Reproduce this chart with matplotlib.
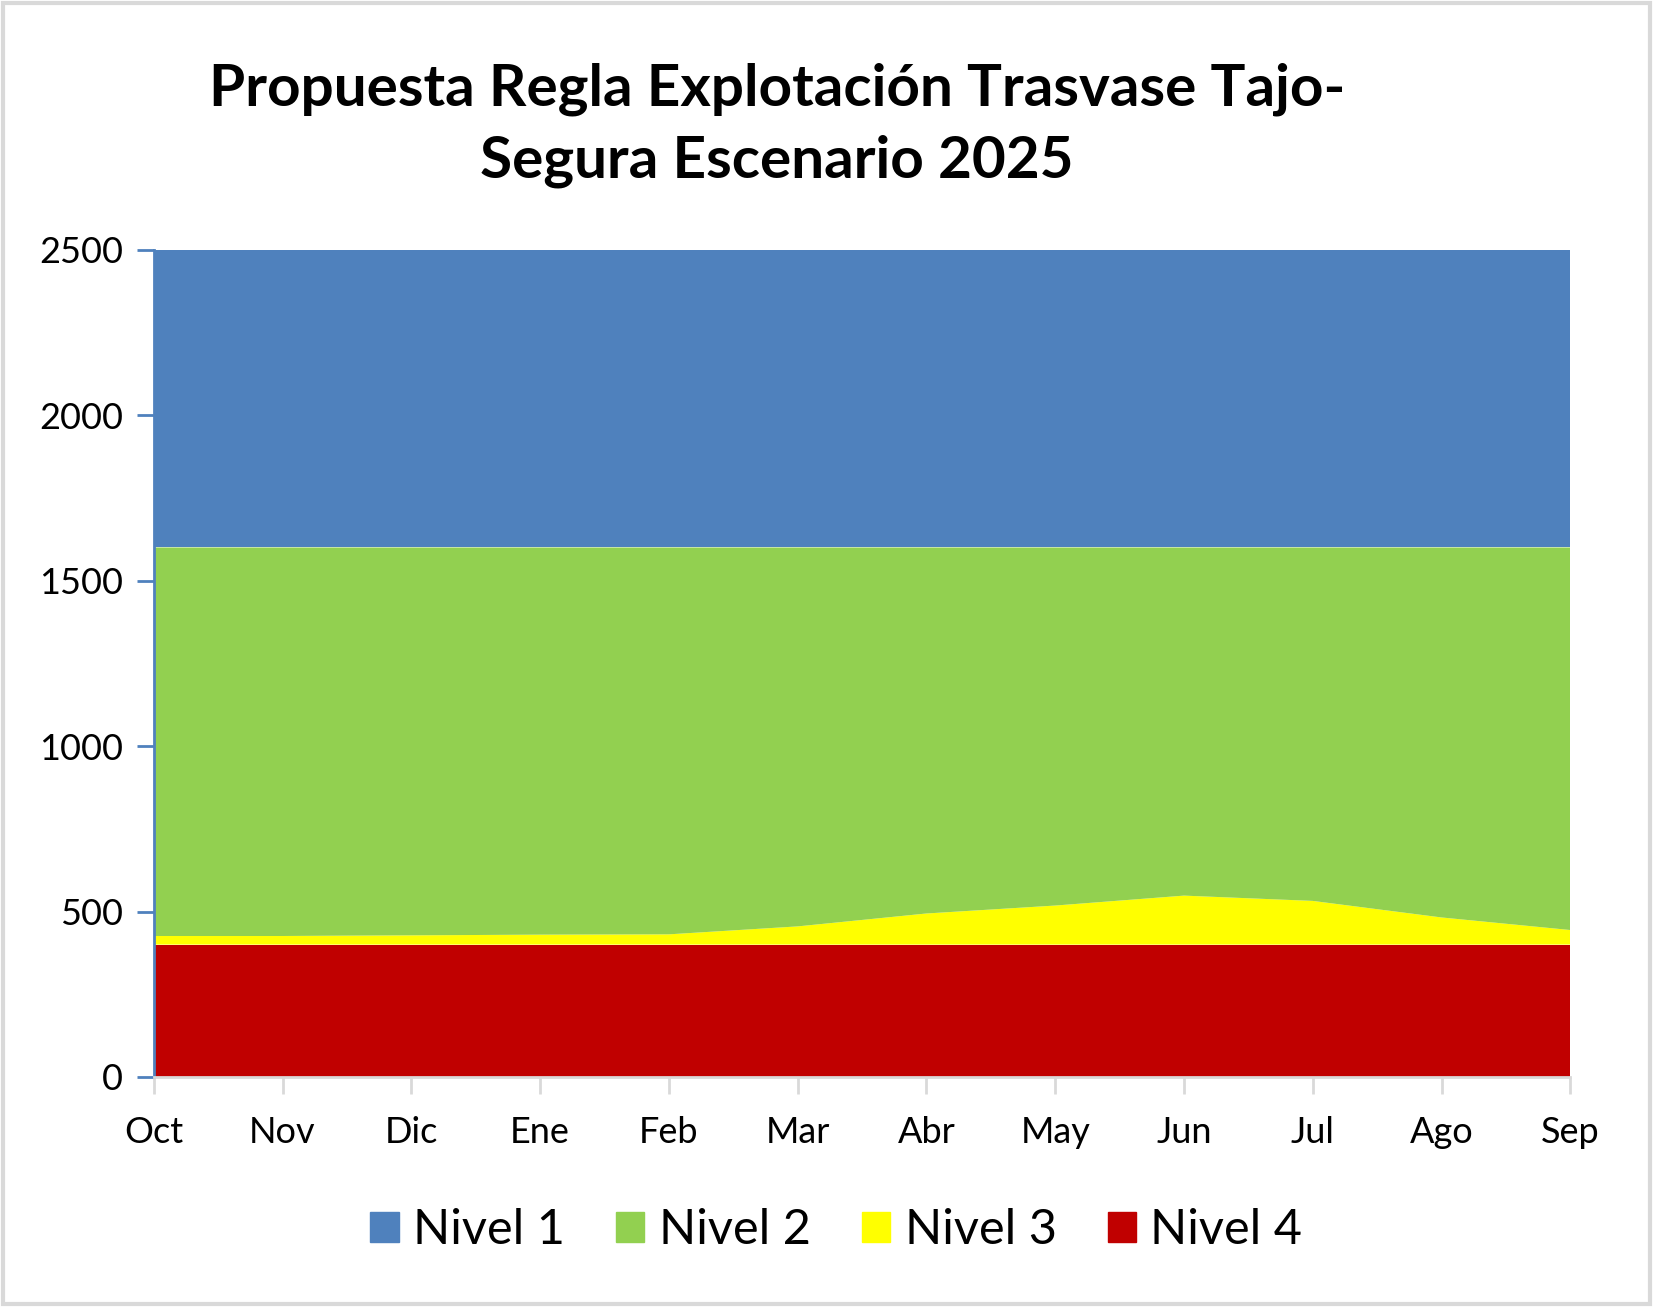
import matplotlib.pyplot as plt
from matplotlib.patches import Rectangle

plt.rcParams['font.family'] = ['Lato', 'DejaVu Sans']

meses = ['Oct', 'Nov', 'Dic', 'Ene', 'Feb', 'Mar', 'Abr', 'May', 'Jun', 'Jul', 'Ago', 'Sep']

# espesor de cada nivel (hm3), apilados de abajo a arriba
nivel4 = [400, 400, 400, 400, 400, 400, 400, 400, 400, 400, 400, 400]
nivel3 = [26, 26, 28, 30, 31, 55, 94, 118, 148, 132, 82, 44]
nivel2 = [1174, 1174, 1172, 1170, 1169, 1145, 1106, 1082, 1052, 1068, 1118, 1156]
nivel1 = [900, 900, 900, 900, 900, 900, 900, 900, 900, 900, 900, 900]

colores = {'Nivel 1': '#4F81BD', 'Nivel 2': '#92D050', 'Nivel 3': '#FFFF00', 'Nivel 4': '#C00000'}

fig = plt.figure(figsize=(16.53, 13.07), dpi=100)
ax = fig.add_axes([0.093, 0.176, 0.857, 0.633])

x = list(range(len(meses)))
ax.stackplot(x, nivel4, nivel3, nivel2, nivel1,
             colors=[colores['Nivel 4'], colores['Nivel 3'], colores['Nivel 2'], colores['Nivel 1']],
             linewidth=0)

ax.set_xlim(0, len(meses) - 1)
ax.set_ylim(0, 2500)
ax.set_yticks([0, 500, 1000, 1500, 2000, 2500])
ax.set_xticks(x)
ax.set_xticklabels(meses)
ax.tick_params(axis='both', labelsize=26)
ax.tick_params(axis='y', color='#4F81BD', length=12, width=2, pad=10)
ax.tick_params(axis='x', color='#D9D9D9', length=12, width=2, pad=16)

for s in ['top', 'right']:
    ax.spines[s].set_visible(False)
ax.spines['left'].set_color('#4F81BD')
ax.spines['left'].set_linewidth(2)
ax.spines['bottom'].set_color('#D9D9D9')
ax.spines['bottom'].set_linewidth(2)

fig.text(0.47, 0.904, 'Propuesta Regla Explotación Trasvase Tajo-\nSegura Escenario 2025',
         ha='center', va='center', fontsize=42, fontweight='bold', linespacing=1.42)

handles = [Rectangle((0, 0), 1, 1, color=colores[k]) for k in ['Nivel 1', 'Nivel 2', 'Nivel 3', 'Nivel 4']]
fig.legend(handles, ['Nivel 1', 'Nivel 2', 'Nivel 3', 'Nivel 4'], loc='center',
           bbox_to_anchor=(0.506, 0.059), ncol=4, frameon=False, fontsize=35,
           handlelength=0.58, handleheight=0.58, handletextpad=0.3, columnspacing=1.05)

# marco gris del grafico
fig.patches.append(Rectangle((0.002, 0.002), 0.996, 0.996, transform=fig.transFigure,
                             fill=False, edgecolor='#D9D9D9', linewidth=3))

fig.savefig('out.png', dpi=100)
